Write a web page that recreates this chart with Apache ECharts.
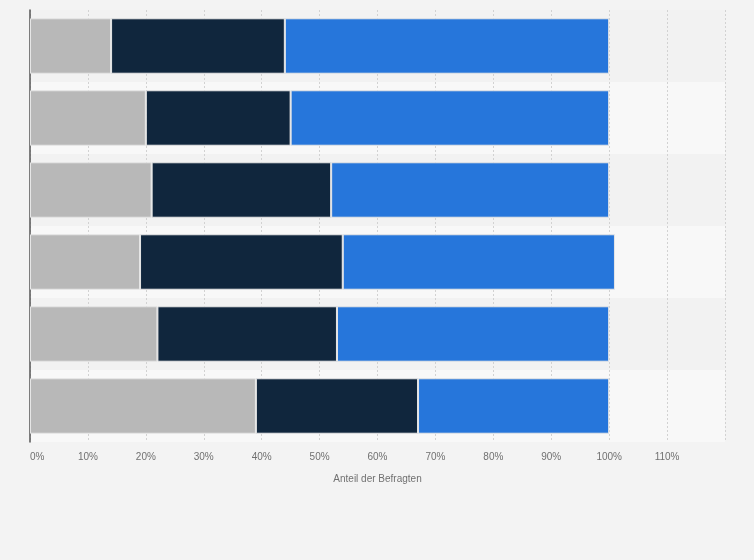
<!DOCTYPE html>
<html>
<head>
<meta charset="utf-8">
<script src="https://cdn.jsdelivr.net/npm/echarts@6/dist/echarts.min.js"></script>
<style>
  html, body { margin: 0; padding: 0; background: #f3f3f3; }
  #chart { width: 754px; height: 560px; }
</style>
</head>
<body>
<div id="chart"></div>
<script>
// rows from top to bottom (labels are not shown in the source)
const categories = ['Gruppe 1', 'Gruppe 2', 'Gruppe 3', 'Gruppe 4', 'Gruppe 5', 'Gruppe 6']
const greyValues = [14, 20, 21, 19, 22, 39]
const darkValues = [30, 25, 31, 35, 31, 28]
const blueValues = [56, 55, 48, 47, 47, 33]
const axisName = 'Anteil der Befragten'

const chartDom = document.getElementById('chart')
const myChart = echarts.init(chartDom)

function barSeries (name, data, color) {
  return {
    name: name,
    type: 'bar',
    stack: 'total',
    barWidth: '77%',
    data: data,
    itemStyle: { color: color, borderColor: '#e6e6e6', borderWidth: 1 },
    emphasis: { disabled: true }
  }
}

const option = {
  backgroundColor: '#f3f3f3',
  animation: false,
  grid: { left: 30, right: 29, top: 10, bottom: 118 },
  xAxis: {
    type: 'value',
    min: 0,
    max: 120,
    interval: 10,
    name: axisName,
    nameLocation: 'middle',
    nameGap: 32,
    nameTextStyle: { color: '#707070', fontSize: 10, fontFamily: 'Liberation Sans' },
    axisLine: { show: false },
    axisTick: { show: false },
    axisLabel: {
      color: '#707070',
      fontSize: 10,
      fontFamily: 'Liberation Sans',
      margin: 10,
      alignMinLabel: 'left',
      formatter: function (v) { return v >= 120 ? '' : v + '%' }
    },
    splitLine: { show: true, lineStyle: { color: '#d2d2d2', type: [2, 2], width: 1 } }
  },
  yAxis: {
    type: 'category',
    inverse: true,
    data: categories,
    axisLine: { show: true, lineStyle: { color: '#555', width: 1.5 } },
    axisTick: { show: false },
    axisLabel: { show: false },
    splitArea: { show: true, areaStyle: { color: ['#f2f2f2', '#f8f8f8'] } }
  },
  series: [
    barSeries('Grau', greyValues, '#b8b8b8'),
    barSeries('Dunkelblau', darkValues, '#10263d'),
    barSeries('Blau', blueValues, '#2676db')
  ]
}

myChart.setOption(option)
window.addEventListener('resize', () => myChart.resize())
</script>
</body>
</html>
